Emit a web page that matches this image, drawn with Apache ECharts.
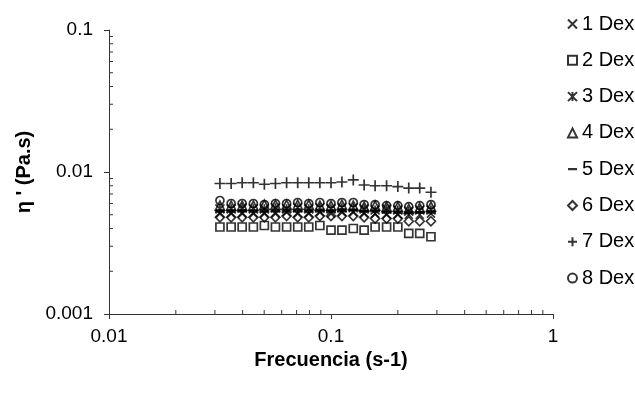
<!DOCTYPE html>
<html>
<head>
<meta charset="utf-8">
<script src="https://cdn.jsdelivr.net/npm/echarts@6/dist/echarts.min.js"></script>
<style>
  html, body { margin: 0; padding: 0; background: #fff; }
  #chart { width: 635px; height: 394px; }
</style>
</head>
<body>
<div id="chart"></div>
<script>
// frequency sweep, s-1
const freq = [0.0316, 0.0355, 0.0398, 0.0447, 0.0501, 0.0562, 0.0631, 0.0708, 0.0794, 0.0891,
  0.1, 0.112, 0.126, 0.141, 0.158, 0.178, 0.2, 0.224, 0.251, 0.282];

const dex1 = [0.0051, 0.0051, 0.0051, 0.0051, 0.0051, 0.0051, 0.0052, 0.0051, 0.0051, 0.0052,
  0.0051, 0.0052, 0.0052, 0.0051, 0.0051, 0.0050, 0.0050, 0.0050, 0.0050, 0.0051];
const dex2 = [0.0041, 0.0041, 0.0041, 0.0041, 0.0042, 0.0041, 0.0041, 0.0041, 0.0041, 0.0042,
  0.0039, 0.0039, 0.0040, 0.0039, 0.0041, 0.0041, 0.0041, 0.0037, 0.0037, 0.0035];
const dex3 = [0.0055, 0.0055, 0.0056, 0.0055, 0.0055, 0.0056, 0.0055, 0.0056, 0.0055, 0.0056,
  0.0055, 0.0056, 0.0056, 0.0055, 0.0054, 0.0055, 0.0054, 0.0053, 0.0054, 0.0054];
const dex4 = [0.0058, 0.0058, 0.0058, 0.0058, 0.0059, 0.0059, 0.0059, 0.0059, 0.0059, 0.0058,
  0.0058, 0.0059, 0.0058, 0.0057, 0.0058, 0.0057, 0.0057, 0.0055, 0.0056, 0.0057];
const dex5 = [0.0053, 0.0053, 0.0053, 0.0053, 0.0053, 0.0053, 0.0053, 0.0053, 0.0053, 0.0053,
  0.0053, 0.0053, 0.0054, 0.0053, 0.0053, 0.0052, 0.0052, 0.0052, 0.0052, 0.0052];
const dex6 = [0.0048, 0.0048, 0.0048, 0.0048, 0.0048, 0.0048, 0.0049, 0.0048, 0.0048, 0.0049,
  0.0049, 0.0049, 0.0049, 0.0048, 0.0047, 0.0047, 0.0047, 0.0045, 0.0045, 0.0045];
const dex7 = [0.0083, 0.0083, 0.0084, 0.0084, 0.0082, 0.0083, 0.0084, 0.0084, 0.0084, 0.0084,
  0.0084, 0.0085, 0.0088, 0.0081, 0.0080, 0.0080, 0.0079, 0.0077, 0.0077, 0.0072];
const dex8 = [0.0063, 0.0060, 0.0060, 0.0060, 0.0059, 0.0060, 0.0060, 0.0061, 0.0060, 0.0061,
  0.0060, 0.0061, 0.0061, 0.0059, 0.0059, 0.0058, 0.0058, 0.0057, 0.0058, 0.0059];

const seriesNames = ['1 Dex', '2 Dex', '3 Dex', '4 Dex', '5 Dex', '6 Dex', '7 Dex', '8 Dex'];

// minor tick positions for the log axes
const xMinorTicks = [0.02, 0.03, 0.04, 0.05, 0.06, 0.07, 0.08, 0.09, 0.2, 0.3, 0.4, 0.5, 0.6, 0.7, 0.8, 0.9];
const yMinorTicks = [0.002, 0.003, 0.004, 0.005, 0.006, 0.007, 0.008, 0.009, 0.02, 0.03, 0.04, 0.05, 0.06, 0.07, 0.08, 0.09];

const FONT = 'Liberation Sans, Arial, sans-serif';

// marker shapes (line-only paths get stroked, not filled)
const CROSS = 'path://M0,0L10,10M10,0L0,10';
const STAR = 'path://M0,0L10,10M10,0L0,10M5,0L5,10';
const PLUS = 'path://M5,0L5,10M0,5L10,5';
// a flat dash; the two tiny corner dots keep the box square so it is not stretched
const DASH = 'path://M0,0h0.01v0.01h-0.01zM9.99,9.99h0.01v0.01h-0.01zM0,3.7h10v2.6h-10z';

const chart = echarts.init(document.getElementById('chart'));

const outline = { color: 'rgba(0,0,0,0)', borderColor: '#000', borderWidth: 1.7 };

function scatter(name, values, symbol, size, style) {
  return {
    name: name,
    type: 'scatter',
    symbol: symbol,
    symbolSize: size,
    itemStyle: style || outline,
    emphasis: { disabled: true },
    data: freq.map((f, i) => [f, values[i]])
  };
}

function minorTicks(data, dx, dy) {
  return {
    type: 'custom',
    silent: true,
    clip: false,
    data: data,
    renderItem: (params, api) => {
      const p = api.coord([api.value(0), api.value(1)]);
      return {
        type: 'line',
        shape: { x1: p[0], y1: p[1], x2: p[0] + dx, y2: p[1] + dy },
        style: { stroke: '#333', lineWidth: 1 }
      };
    }
  };
}

const fmt = v => String(Number(v.toPrecision(1)));

chart.setOption({
  animation: false,
  grid: { left: 109, right: 82, top: 30, bottom: 80 },
  legend: {
    data: seriesNames,
    orient: 'vertical',
    left: 562,
    top: 9,
    itemWidth: 9,
    itemHeight: 9,
    itemGap: 16.3,
    textStyle: { fontFamily: FONT, fontSize: 20, color: '#000' }
  },
  xAxis: {
    type: 'log',
    logBase: 10,
    min: 0.01,
    max: 1,
    name: 'Frecuencia (s-1)',
    nameLocation: 'middle',
    nameGap: 33,
    nameTextStyle: { fontFamily: FONT, fontSize: 20, fontWeight: 'bold', color: '#000' },
    axisLine: { lineStyle: { color: '#333', width: 1 } },
    axisTick: { length: 5, lineStyle: { color: '#333' } },
    axisLabel: { fontFamily: FONT, fontSize: 19, color: '#000', margin: 13, formatter: fmt },
    splitLine: { show: false }
  },
  yAxis: {
    type: 'log',
    logBase: 10,
    min: 0.001,
    max: 0.1,
    name: "\u03b7 ' (Pa.s)",
    nameLocation: 'middle',
    nameGap: 60,
    nameRotate: 90,
    nameTextStyle: { fontFamily: FONT, fontSize: 20, fontWeight: 'bold', color: '#000' },
    axisLine: { show: true, lineStyle: { color: '#333', width: 1 } },
    axisTick: { show: true, length: 5, lineStyle: { color: '#333' } },
    axisLabel: { fontFamily: FONT, fontSize: 19, color: '#000', margin: 16, formatter: fmt },
    splitLine: { show: false }
  },
  series: [
    scatter('1 Dex', dex1, CROSS, 8),
    scatter('2 Dex', dex2, 'rect', 8),
    scatter('3 Dex', dex3, STAR, 9),
    scatter('4 Dex', dex4, 'triangle', 9),
    scatter('5 Dex', dex5, DASH, 10, { color: '#000' }),
    scatter('6 Dex', dex6, 'diamond', 9),
    scatter('7 Dex', dex7, PLUS, 11),
    scatter('8 Dex', dex8, 'circle', 8),
    minorTicks(xMinorTicks.map(v => [v, 0.001]), 0, -4),
    minorTicks(yMinorTicks.map(v => [0.01, v]), 4, 0)
  ]
});
</script>
</body>
</html>
